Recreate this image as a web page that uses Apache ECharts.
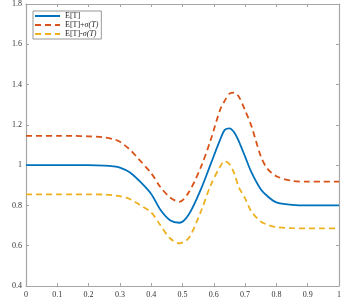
<!DOCTYPE html>
<html><head><meta charset="utf-8">
<script src="https://cdn.jsdelivr.net/npm/echarts@6/dist/echarts.min.js"></script>
<style>html,body{margin:0;padding:0;background:#fff}#c{width:341px;height:307px}</style>
</head><body><div id="c"></div>
<script>
const xs = [0,0.05,0.1,0.15,0.2,0.25,0.28,0.3,0.33,0.36,0.4,0.43,0.46,0.49,0.52,0.56,0.59,0.62,0.635,0.65,0.665,0.68,0.7,0.72,0.75,0.77,0.8,0.85,0.9,0.95,1];
const meanT = [1.0,1.0,1.0,1.0,1.0,0.998,0.994,0.988,0.966,0.925,0.857,0.777,0.727,0.714,0.755,0.885,1.005,1.125,1.175,1.183,1.163,1.118,1.042,0.965,0.88,0.848,0.815,0.803,0.8,0.8,0.8];
const upperT = [1.145,1.145,1.145,1.145,1.143,1.138,1.128,1.116,1.08,1.03,0.96,0.89,0.84,0.818,0.865,0.995,1.125,1.274,1.32,1.355,1.36,1.34,1.272,1.195,1.045,0.985,0.945,0.922,0.918,0.918,0.918];
const lowerT = [0.855,0.855,0.855,0.855,0.855,0.854,0.85,0.846,0.833,0.806,0.765,0.70,0.637,0.612,0.638,0.775,0.9,0.992,1.02,1.005,0.96,0.89,0.835,0.77,0.72,0.705,0.692,0.687,0.686,0.686,0.686];
const names = ['E[T]','E[T]+σ(T)','E[T]-σ(T)'];
const pair = a => xs.map((x,i)=>[x,a[i]]);
const font = 'Liberation Serif';
const axisCol = '#a6a6a6';
const chart = echarts.init(document.getElementById('c'), null, {renderer:'canvas'});
const ax = (extra) => Object.assign({
  type:'value', axisLine:{show:true,onZero:false,lineStyle:{color:axisCol,width:1.2}},
  axisTick:{show:true,inside:true,length:3,lineStyle:{color:axisCol}},
  splitLine:{show:false}
}, extra);
chart.setOption({
  animation:false,
  grid:{left:26,right:2,top:4,bottom:21,containLabel:false,outerBoundsMode:'none'},
  legend:{
    left:33, top:11, orient:'vertical', itemWidth:25, itemHeight:8, itemGap:1,
    backgroundColor:'#fff', borderColor:'#7f7f7f', borderWidth:0.8, padding:[1,3,1,1],
    itemStyle:{opacity:0},
    textStyle:{fontFamily:font,fontSize:8,color:'#222',
      rich:{i:{fontFamily:font,fontSize:8,fontStyle:'italic',color:'#222'}}},
    formatter:n=>n.replace('σ(T)','{i|σ(T)}'),
    data:names
  },
  xAxis:[
    ax({min:0,max:1,interval:0.1,position:'bottom',name:'x',nameLocation:'middle',nameGap:12,
      nameTextStyle:{fontFamily:font,fontSize:9,color:'#333'},
      axisLabel:{fontFamily:font,fontSize:8,color:'#333',margin:5}}),
    ax({min:0,max:1,interval:0.1,position:'top',axisLabel:{show:false}})
  ],
  yAxis:[
    ax({min:0.4,max:1.8,interval:0.2,position:'left',name:'T',nameLocation:'middle',nameGap:19,
      nameTextStyle:{fontFamily:font,fontSize:9,color:'#333'},
      axisLabel:{fontFamily:font,fontSize:8,color:'#333',margin:4,formatter:v=>String(+v.toFixed(1))}}),
    ax({min:0.4,max:1.8,interval:0.2,position:'right',axisLabel:{show:false}})
  ],
  series:[
    {name:names[0],type:'line',data:pair(meanT),smooth:0.3,symbol:'none',lineStyle:{color:'#0072BD',width:1.8},itemStyle:{color:'#0072BD'}},
    {name:names[1],type:'line',data:pair(upperT),smooth:0.3,symbol:'none',lineStyle:{color:'#D95319',width:1.8,type:[6,4]},itemStyle:{color:'#D95319'}},
    {name:names[2],type:'line',data:pair(lowerT),smooth:0.3,symbol:'none',lineStyle:{color:'#EDB120',width:1.8,type:[6,4]},itemStyle:{color:'#EDB120'}}
  ]
});
</script></body></html>
